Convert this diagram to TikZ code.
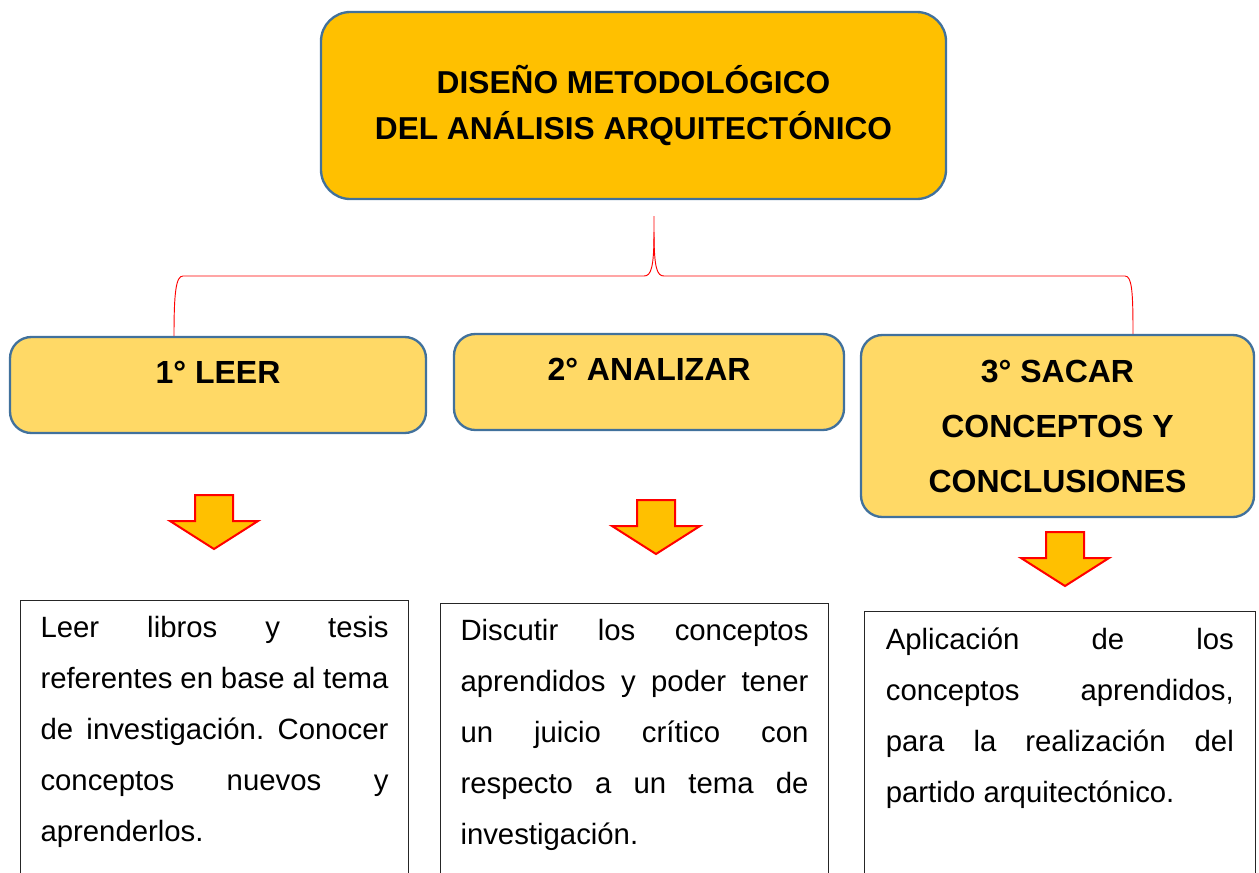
\documentclass[tikz,border=0pt]{standalone}
\usepackage{fontspec}
\setmainfont{Liberation Sans}
\usetikzlibrary{calc}
\definecolor{tituloFill}{HTML}{FFC000}
\definecolor{pasoFill}{HTML}{FFD966}
\definecolor{bordeAzul}{HTML}{41719C}
\frenchspacing
\begin{document}
\begin{tikzpicture}[
  x=0.75pt, y=-0.75pt,
  titulo/.style={draw=bordeAzul, line width=1.75pt, fill=tituloFill, rounded corners=22pt, align=center,
    font=\fontsize{23.75}{34.5}\selectfont\bfseries, minimum width=468.75pt, minimum height=140.25pt},
  paso/.style={draw=bordeAzul, line width=1.75pt, fill=pasoFill, rounded corners=16pt, align=center,
    font=\fontsize{24}{41.25}\selectfont\bfseries, minimum height=72pt},
  subido/.style={text height=18pt, text depth=20pt},
  texto/.style={draw=black!85, line width=0.75pt, anchor=north west, align=justify, text width=261pt,
    inner xsep=15pt, inner ysep=12pt, text depth=250pt, font=\fontsize{22}{38.25}\selectfont},
  flecha/.style={draw=red, line width=1.5pt, fill=tituloFill, line join=miter},
  llave/.style={draw=red, line width=0.7pt},
  flechaabajo/.pic={\path[flecha] (-19,0) -- (19,0) -- (19,26) -- (44,26) -- (0,54) -- (-44,26) -- (-19,26) -- cycle;}
]
\useasboundingbox (0,0) rectangle (1259,872);

% titulo y pasos
\node[titulo] (titulo) at (633.5,105.5) {DISEÑO METODOLÓGICO\\DEL ANÁLISIS ARQUITECTÓNICO};
\node[paso, subido, minimum width=312pt] (leer) at (218,385) {1° LEER};
\node[paso, subido, minimum width=292.5pt] (analizar) at (649,382) {2° ANALIZAR};
\node[paso, minimum width=294.75pt, minimum height=136.5pt, text depth=-4pt] (sacar) at (1057.5,426) {3° SACAR\\CONCEPTOS Y\\CONCLUSIONES};

% llave
\coordinate (llave) at ($(titulo.south)+(20.5,16)$);
\draw[llave] (llave) -- (654,232) .. controls (654,268) and (651,276) .. (644,276) -- (183,276)
  .. controls (176,276) and (174,292) .. ($(leer.north)+(-44,0)$);
\draw[llave] (654,232) .. controls (654,268) and (657,276) .. (664,276) -- (1125,276)
  .. controls (1132,276) and (1133,292) .. ($(sacar.north)+(75.5,0)$);

% flechas
\pic at (214,495) {flechaabajo};
\pic at (656,500) {flechaabajo};
\pic at (1065,532) {flechaabajo};

% textos
\node[texto] (textoLeer) at (20,600) {Leer libros y tesis\linebreak referentes en base al tema\linebreak de investigación. Conocer\linebreak conceptos nuevos y\linebreak aprenderlos.};
\node[texto] (textoAnalizar) at (440,603) {Discutir los conceptos\linebreak aprendidos y poder tener\linebreak un juicio crítico con\linebreak respecto a un tema de\linebreak investigación.};
\node[texto, inner xsep=16pt] (textoSacar) at (864,611) {Aplicación de los\linebreak conceptos aprendidos,\linebreak para la realización del\linebreak partido arquitectónico.};
\end{tikzpicture}
\end{document}
